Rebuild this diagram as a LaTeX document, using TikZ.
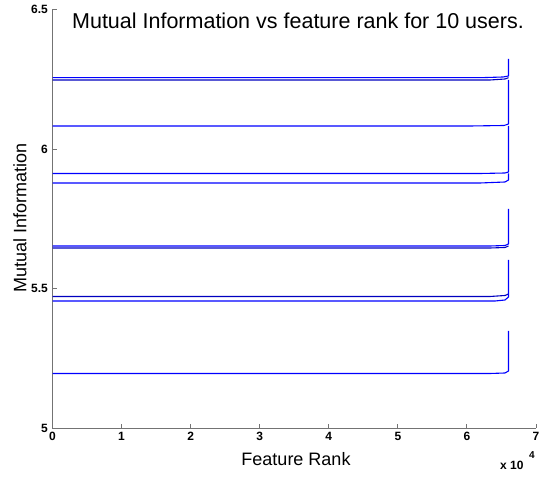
\documentclass[tikz,border=0pt]{standalone}
\usepackage{fontspec}
\setmainfont{Liberation Sans}
\begin{document}
\begin{tikzpicture}[x=1pt,y=-1pt,
  axisline/.style={draw=black!55, line width=0.9pt},
  ticklab/.style={font=\fontsize{12}{14}\selectfont\bfseries, inner sep=1pt},
  curve/.style={draw=blue, line width=1.1pt, line join=round},
  curvedark/.style={draw=blue!75!black, line width=1.1pt, line join=round}]
\useasboundingbox (0,0) rectangle (539,478);
% axes (origin at pixel (52.5,428))
\draw[axisline] (52.5,9.5) -- (52.5,428) -- (536,428);
% x ticks and labels
\foreach \k in {0,...,7}{
  \draw[axisline] ({52.5+69.07*\k},428) -- ({52.5+69.07*\k},424);
  \node[ticklab, anchor=north] (xt\k) at ({52.5+69.07*\k},431) {\k};
}
\node[ticklab, anchor=west] (xmul) at (499,465) {x 10};
\node[font=\fontsize{10}{12}\selectfont\bfseries, inner sep=0pt] (xexp) at (532,455) {4};
% y ticks and labels
\foreach \v/\p/\n in {5/428/a,5.5/288.5/b,6/149/c,6.5/9.5/d}{
  \draw[axisline] (52.5,\p) -- (57,\p);
  \node[ticklab, anchor=east] (yt\n) at (49,\p) {\v};
}
% axis titles
\node[font=\fontsize{18}{20}\selectfont] (xlab) at (296,459) {Feature Rank};
\node[font=\fontsize{18}{20}\selectfont, rotate=90] (ylab) at (20,218) {Mutual Information};
\node[font=\fontsize{21.5}{24}\selectfont] (title) at (298,21) {Mutual Information vs feature rank for 10 users.};
% sorted MI curves: flat body, then a sharp rise at the highest ranks
\draw[curve] (52.5,77.7) -- (480,77.7) -- (503,77) -- (508.5,76) -- (508.5,59);
\draw[curvedark] (52.5,80) -- (490,80) -- (505,79) -- (508.5,77.7);
\draw[curve] (52.5,126) -- (470,126) -- (504,125.5) -- (508.5,124) -- (508.5,80);
\draw[curve] (52.5,173.5) -- (480,173.5) -- (505,173) -- (508.5,172) -- (508.5,126);
\draw[curve] (52.5,183) -- (480,183) -- (505,182) -- (508.5,180) -- (508.5,173.5);
\draw[curve] (52.5,246) -- (490,246) -- (505,245.5) -- (508.5,244) -- (508.5,209);
\draw[curvedark] (52.5,248) -- (490,248) -- (505,247.5) -- (508.5,246);
\draw[curvedark] (52.5,296.5) -- (490,296.5) -- (505,295.5) -- (508.5,294);
\draw[curve] (52.5,301) -- (495,301) -- (505,300) -- (508.5,297) -- (508.5,260);
\draw[curve] (52.5,373.5) -- (490,373.5) -- (505,373) -- (508.5,371) -- (508.5,331);
\end{tikzpicture}
\end{document}
